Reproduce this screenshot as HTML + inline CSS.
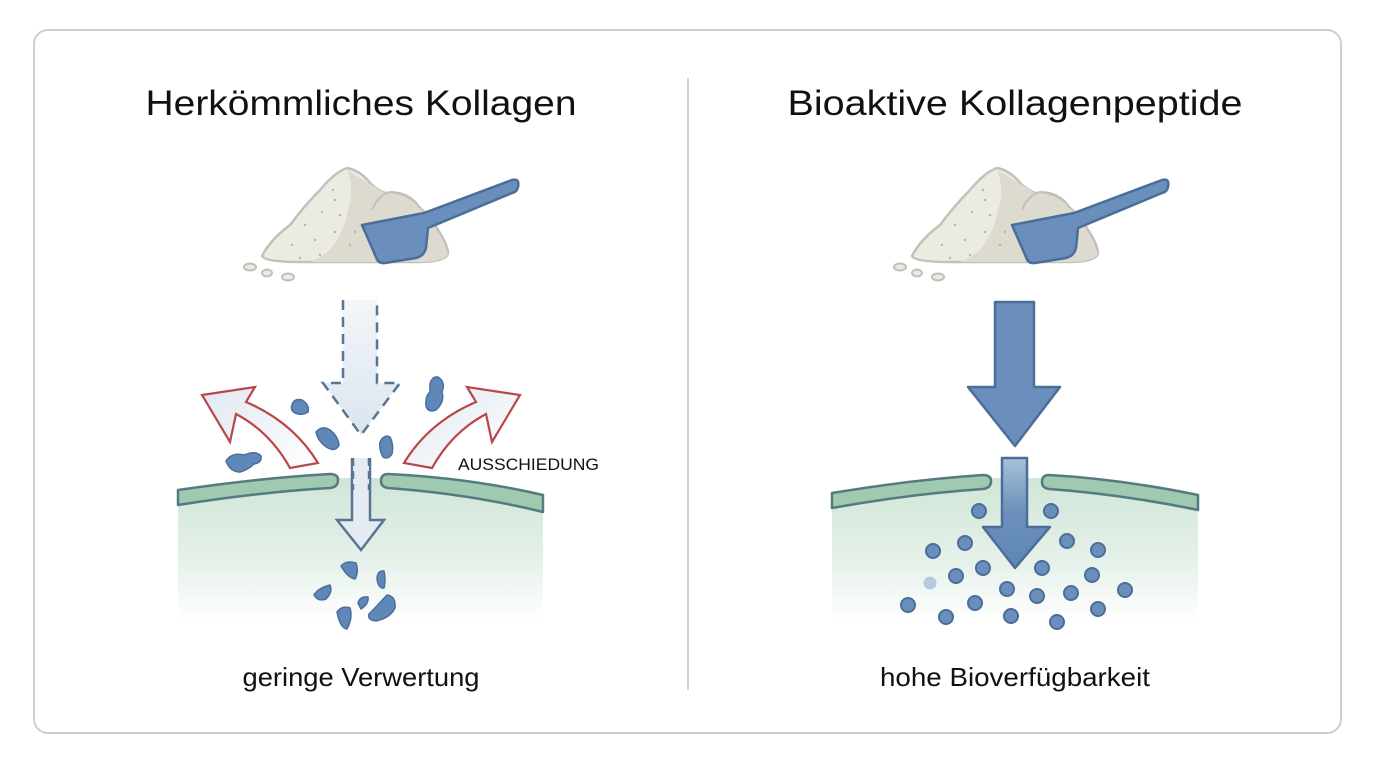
<!DOCTYPE html>
<html><head><meta charset="utf-8"><style>
html,body{margin:0;padding:0;background:#fff;}
svg{display:block;}
text{font-family:"Liberation Sans","DejaVu Sans",sans-serif;fill:#111;}
</style></head><body>
<svg width="1376" height="768" viewBox="0 0 1376 768" xmlns="http://www.w3.org/2000/svg">
<defs>
<linearGradient id="body" x1="0" y1="0" x2="0" y2="1">
<stop offset="0" stop-color="#cfe6d8"/><stop offset="0.6" stop-color="#e6f1ea"/><stop offset="1" stop-color="#ffffff"/>
</linearGradient>
<linearGradient id="pale" x1="0" y1="0" x2="0" y2="1">
<stop offset="0" stop-color="#f3f6fa"/><stop offset="1" stop-color="#dbe5ef"/>
</linearGradient>
<linearGradient id="redL" x1="0" y1="0" x2="1" y2="1">
<stop offset="0" stop-color="#e0e8f0"/><stop offset="1" stop-color="#ffffff"/>
</linearGradient>
<linearGradient id="blueShaft" x1="0" y1="0" x2="0" y2="1">
<stop offset="0" stop-color="#a9c0d8"/><stop offset="0.5" stop-color="#6b90bb"/><stop offset="1" stop-color="#5f86b4"/>
</linearGradient>
<g id="pile">
<path d="M262,256 Q270,240 290,225 Q305,205 320,190 Q335,172 347,168 Q360,170 372,185 Q378,190 385,193 Q405,192 420,208 Q432,218 438,230 Q448,245 448,254 Q444,262 420,262 L300,262 Q265,262 262,256 Z" fill="#ecebe2" stroke="#c2c0b8" stroke-width="2.5"/>
<path d="M347,170 Q355,190 348,210 Q345,230 330,250 Q320,258 310,262 L420,262 Q444,262 448,254 Q440,230 420,208 Q405,192 385,193 Q372,185 347,170 Z" fill="#dddbd0"/>
<path d="M372,210 Q378,195 390,192 Q410,192 420,208" fill="none" stroke="#c2c0b8" stroke-width="2"/>
<g fill="#b8b5a8">
<circle cx="305" cy="225" r="1.2"/><circle cx="322" cy="212" r="1.2"/><circle cx="335" cy="200" r="1.2"/><circle cx="315" cy="240" r="1.2"/><circle cx="335" cy="232" r="1.2"/><circle cx="292" cy="245" r="1.2"/><circle cx="320" cy="255" r="1.2"/><circle cx="340" cy="215" r="1.2"/><circle cx="300" cy="258" r="1.2"/><circle cx="350" cy="245" r="1.2"/><circle cx="333" cy="190" r="1.2"/><circle cx="355" cy="232" r="1.2"/>
</g>
<ellipse cx="250" cy="267" rx="6" ry="3.5" fill="#ecebe2" stroke="#c2c0b8" stroke-width="2"/>
<ellipse cx="267" cy="273" rx="5" ry="3.5" fill="#ecebe2" stroke="#c2c0b8" stroke-width="2"/>
<ellipse cx="288" cy="277" rx="6" ry="3.5" fill="#ecebe2" stroke="#c2c0b8" stroke-width="2"/>
<path d="M362,225 L424,213 L512,180 Q520,178 518,187 Q517,192 512,193 L428,228 L426,248 Q424,256 416,258 L385,263 Q378,264 376,257 Z" fill="#6a8fbc" stroke="#4b6e98" stroke-width="2.5" stroke-linejoin="round"/>
</g>
</defs>

<rect x="34" y="30" width="1307" height="703" rx="14" fill="#fff" stroke="#cfcfcf" stroke-width="2"/>
<line x1="688" y1="78" x2="688" y2="690" stroke="#d0d0d0" stroke-width="2"/>

<text x="361" y="115" font-size="35" text-anchor="middle" textLength="431" lengthAdjust="spacingAndGlyphs">Herkömmliches Kollagen</text>
<text x="1015" y="115" font-size="35" text-anchor="middle" textLength="455" lengthAdjust="spacingAndGlyphs">Bioaktive Kollagenpeptide</text>
<text x="361" y="686" font-size="26" text-anchor="middle" textLength="237" lengthAdjust="spacingAndGlyphs">geringe Verwertung</text>
<text x="1015" y="686" font-size="26" text-anchor="middle" textLength="270" lengthAdjust="spacingAndGlyphs">hohe Bioverfügbarkeit</text>
<text x="458" y="470" font-size="17" textLength="141" lengthAdjust="spacingAndGlyphs">AUSSCHIEDUNG</text>

<!-- LEFT -->
<use href="#pile"/>
<path d="M178,497 Q260,482 337,478 L381,478 Q470,482 543,502 L543,620 L178,620 Z" fill="url(#body)"/>
<path d="M178,490 Q260,478 330,474 Q338,474 338,480 Q338,487 330,488 Q260,492 178,505 Z" fill="#9fcab0" stroke="#557a80" stroke-width="2.5" stroke-linejoin="round"/>
<path d="M388,474 Q470,478 543,495 L543,512 Q470,494 388,488 Q381,487 381,481 Q381,474 388,474 Z" fill="#9fcab0" stroke="#557a80" stroke-width="2.5" stroke-linejoin="round"/>
<path d="M343,300 L343,383 L323,383 L361,435 L400,383 L377,383 L377,300" fill="url(#pale)" stroke="#5a7590" stroke-width="2.5" stroke-dasharray="10,7"/>
<path d="M352,458 L352,520 L337,520 L361,550 L384,520 L370,520 L370,458" fill="#e4ebf2" stroke="#5a7590" stroke-width="2.5"/>
<rect x="353" y="459" width="16" height="30" fill="#e4ebf2"/>
<line x1="353" y1="458" x2="353" y2="490" stroke="#5a7590" stroke-width="2.5" stroke-dasharray="8,5"/>
<line x1="369" y1="458" x2="369" y2="490" stroke="#5a7590" stroke-width="2.5" stroke-dasharray="8,5"/>
<path d="M290,468 Q270,432 236,414 L230,442 L202,395 L255,387 L246,402 Q293,422 318,463 Z" fill="url(#redL)" stroke="#b9474a" stroke-width="2.2"/>
<path d="M432,468 Q452,432 486,414 L492,442 L520,395 L467,387 L476,402 Q429,422 404,463 Z" fill="url(#redL)" stroke="#b9474a" stroke-width="2.2"/>
<g fill="#5f88b8" stroke="#4a6f9c" stroke-width="1.5" stroke-linejoin="round">
<path d="M292,405 Q294,398 302,400 Q310,405 308,412 Q302,416 295,413 Q290,410 292,405 Z"/>
<path d="M316,432 Q322,425 330,430 Q338,436 339,445 Q336,452 328,448 Q318,442 316,432 Z"/>
<path d="M226,461 Q232,452 244,455 Q256,450 261,456 Q262,463 254,464 Q248,470 240,472 Q230,472 226,461 Z"/>
<path d="M430,384 Q432,376 438,377 Q446,382 442,392 Q445,402 436,410 Q428,413 426,406 Q425,396 430,392 Z"/>
<path d="M380,442 Q384,434 390,437 Q394,445 392,454 Q388,460 383,457 Q379,450 380,442 Z"/>
<path d="M341,566 Q346,560 356,563 Q359,572 355,579 Q348,578 341,566 Z"/>
<path d="M377,578 Q378,570 384,571 Q386,580 384,588 Q378,589 377,578 Z"/>
<path d="M314,595 Q318,588 330,585 Q333,592 326,599 Q318,602 314,595 Z"/>
<path d="M358,603 Q360,596 368,597 Q369,604 361,609 Z"/>
<path d="M337,612 Q342,605 350,608 Q353,618 347,629 Q340,628 337,612 Z"/>
<path d="M369,614 Q377,606 387,595 Q396,596 395,608 Q390,618 376,621 Q367,620 369,614 Z"/>
</g>

<!-- RIGHT -->
<use href="#pile" transform="translate(650,0)"/>
<path d="M832,500 Q910,484 990,478 L1042,478 Q1120,482 1198,502 L1198,620 L832,620 Z" fill="url(#body)"/>
<path d="M832,493 Q910,480 983,475 Q991,475 991,481 Q991,488 983,489 Q910,494 832,508 Z" fill="#9fcab0" stroke="#557a80" stroke-width="2.5" stroke-linejoin="round"/>
<path d="M1049,475 Q1120,479 1198,495 L1198,510 Q1120,494 1049,489 Q1042,488 1042,482 Q1042,475 1049,475 Z" fill="#9fcab0" stroke="#557a80" stroke-width="2.5" stroke-linejoin="round"/>
<path d="M995,302 L995,387 L968,387 L1015,446 L1060,387 L1034,387 L1034,302 Z" fill="#6a8fbc" stroke="#4b6e98" stroke-width="2.5" stroke-linejoin="round"/>
<path d="M1002,458 L1002,527 L983,527 L1015,568 L1050,527 L1027,527 L1027,458 Z" fill="url(#blueShaft)" stroke="#4b6e98" stroke-width="2.5" stroke-linejoin="round"/>
<g fill="#6a8fbc" stroke="#4b6e98" stroke-width="2">
<circle cx="979" cy="511" r="7"/><circle cx="1051" cy="511" r="7"/><circle cx="933" cy="551" r="7"/><circle cx="965" cy="543" r="7"/><circle cx="1067" cy="541" r="7"/><circle cx="1098" cy="550" r="7"/><circle cx="956" cy="576" r="7"/><circle cx="983" cy="568" r="7"/><circle cx="1042" cy="568" r="7"/><circle cx="1092" cy="575" r="7"/><circle cx="1007" cy="589" r="7"/><circle cx="1037" cy="596" r="7"/><circle cx="1071" cy="593" r="7"/><circle cx="1125" cy="590" r="7"/><circle cx="908" cy="605" r="7"/><circle cx="975" cy="603" r="7"/><circle cx="946" cy="617" r="7"/><circle cx="1011" cy="616" r="7"/><circle cx="1057" cy="622" r="7"/><circle cx="1098" cy="609" r="7"/>
</g>
<circle cx="930" cy="583" r="6.5" fill="#b7cbe0"/>
</svg>
</body></html>
